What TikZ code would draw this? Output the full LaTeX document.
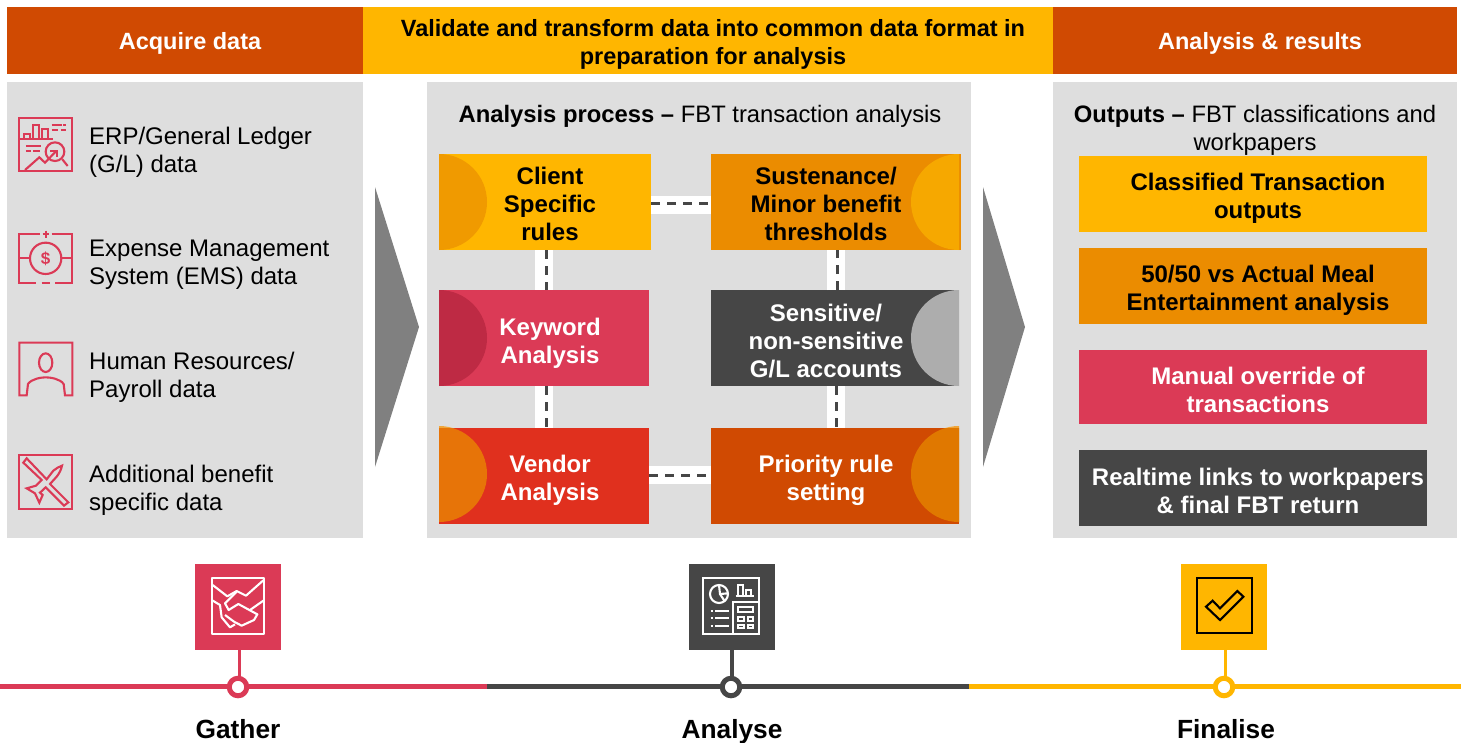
\documentclass[tikz,border=0pt]{standalone}
\usepackage{fontspec}
\setmainfont{Liberation Sans}
\definecolor{cOrange}{HTML}{D04A02}
\definecolor{cYellow}{HTML}{FFB600}
\definecolor{cAmber}{HTML}{EB8C00}
\definecolor{cRose}{HTML}{DB3A56}
\definecolor{cDark}{HTML}{464646}
\definecolor{cRed}{HTML}{E0301E}
\definecolor{cPanel}{HTML}{DEDEDE}
\definecolor{cArrow}{HTML}{808080}
\definecolor{cHalfA}{HTML}{F09A00}
\definecolor{cHalfB}{HTML}{F6A800}
\definecolor{cHalfC}{HTML}{BE2A44}
\definecolor{cHalfD}{HTML}{ADADAD}
\definecolor{cHalfE}{HTML}{E77408}
\definecolor{cHalfF}{HTML}{E07800}
\definecolor{cHalfP}{HTML}{F0A63A}
\tikzset{
  x=1pt,y=-1pt,
  hdr/.style={fill=cOrange,inner sep=0pt,outer sep=0pt,anchor=north west,minimum height=67pt},
  panel/.style={fill=cPanel,inner sep=0pt,outer sep=0pt,anchor=north west},
  cell/.style={inner sep=0pt,outer sep=0pt,anchor=north west},
  htxt/.style={font=\bfseries\fontsize{23.5}{28}\selectfont,align=center,inner sep=0pt},
  btxt/.style={font=\bfseries\fontsize{24}{28}\selectfont,align=center,inner sep=0pt},
  rtxt/.style={font=\fontsize{24}{28}\selectfont,align=left,anchor=west,inner sep=0pt,text=black},
  ttl/.style={font=\fontsize{23.8}{28}\selectfont,align=center,inner sep=0pt,text=black},
  wbar/.style={white,line width=18pt},
  dbar/.style={cDark,line width=3pt,dash pattern=on 9pt off 7pt},
  ico/.style={cRose,line width=2.1pt,line join=miter},
  tile/.style={inner sep=0pt,outer sep=0pt,minimum width=86pt,minimum height=86pt,anchor=north west},
  dot/.style={circle,fill=white,draw=#1,line width=5pt,inner sep=0pt,outer sep=0pt,minimum size=17.5pt},
  stem/.style={#1,line width=3.2pt},
  tline/.style={#1,line width=5pt},
  lab/.style={font=\bfseries\fontsize{26.3}{28}\selectfont,inner sep=0pt,text=black}
}
\begin{document}
\begin{tikzpicture}
\useasboundingbox (0,0) rectangle (1461,742);
% headers
\node[hdr,minimum width=356pt] (h1) at (7,7) {};
\node[hdr,minimum width=690pt,fill=cYellow] (h2) at (363,7) {};
\node[hdr,minimum width=404pt] (h3) at (1053,7) {};
\node[htxt,text=white] (h1t) at (190,43) {Acquire data};
\node[htxt,text=black] (h2t) at (713,44) {Validate and transform data into common data format in\\preparation for analysis};
\node[htxt,text=white] (h3t) at (1260,43) {Analysis \& results};
% panels
\node[panel,minimum width=356pt,minimum height=456pt] (p1) at (7,82) {};
\node[panel,minimum width=544pt,minimum height=456pt] (p2) at (427,82) {};
\node[panel,minimum width=404pt,minimum height=456pt] (p3) at (1053,82) {};
% big arrows
\fill[cArrow] (375,187) -- (419,327) -- (375,467) -- cycle;
\fill[cArrow] (983,187) -- (1025,327) -- (983,467) -- cycle;
% left column text
\node[rtxt] (t1) at (89,152) {ERP/General Ledger\\(G/L) data};
\node[rtxt] (t2) at (89,265) {Expense Management\\System (EMS) data};
\node[rtxt] (t3) at (89,377) {Human Resources/\\Payroll data};
\node[rtxt] (t4) at (89,490) {Additional benefit\\specific data};
% icon ERP
\begin{scope}[shift={(0,80)},scale=1/3]
\draw[ico] (58,115) rectangle (217,273);
\draw[ico] (58,178) -- (158,178);
\draw[ico] (72,178) -- (72,162) -- (90,162) -- (90,178);
\draw[ico] (100,178) -- (100,135) -- (118,135) -- (118,178);
\draw[ico] (125,178) -- (125,148) -- (143,148) -- (143,178);
\draw[ico] (155,135) -- (185,135) (190,135) -- (198,135) (155,150) -- (175,150) (182,150) -- (198,150);
\draw[ico] (78,197) -- (122,197) (78,212) -- (92,212) (100,212) -- (120,212);
\draw[ico] (75,270) -- (118,232) -- (135,248) -- (168,214);
\draw[ico] (150,212) -- (170,212) -- (170,232);
\draw[ico] (165,215) circle[radius=28];
\draw[ico] (187,238) -- (203,258);
\end{scope}
% icon EMS
\begin{scope}[shift={(0,80)},scale=1/3]
\draw[ico] (120,462) -- (58,462) -- (58,608) -- (108,608);
\draw[ico] (155,462) -- (217,462) -- (217,608) -- (165,608);
\draw[ico] (125,608) -- (150,608);
\draw[ico] (128,462) -- (147,462) (137,452) -- (137,473);
\draw[ico] (58,535) -- (90,535) (184,535) -- (217,535);
\draw[ico] (137,535) circle[radius=47];
\node[font=\bfseries\fontsize{17}{17}\selectfont,text=cRose,inner sep=0pt] (dollar) at (137,536) {\$};
\end{scope}
% icon HR
\begin{scope}[shift={(0,320)},scale=1/3]
\draw[ico] (80,226) -- (58,226) -- (58,68) -- (217,68) -- (217,226) -- (195,226) -- (191,192) .. controls (180,176) and (150,172) .. (137,172) .. controls (125,172) and (95,176) .. (84,192) -- cycle;
\draw[ico] (137,128) ellipse[x radius=20,y radius=28];
\end{scope}
% icon plane
\begin{scope}[shift={(0,320)},scale=1/3]
\draw[ico,line width=2.2pt] (58,404) rectangle (217,568);
\draw[ico] (80,415) -- (140,478) -- (160,452) .. controls (168,445) and (178,440) .. (186,437) .. controls (184,448) and (178,460) .. (170,470) -- (150,492) -- (205,547) -- (192,557) -- (137,502) -- (120,518) -- (128,525) -- (118,548) -- (105,520) -- (80,505) -- (108,497) -- (125,480) -- (70,428) -- cycle;
\end{scope}
% middle title
\node[ttl] (mt) at (700,116) {\textbf{Analysis process –} FBT transaction analysis};
% middle boxes
\node[cell,fill=cYellow,minimum width=212pt,minimum height=96pt] (client) at (439,154) {};
\node[cell,fill=cAmber,minimum width=250pt,minimum height=96pt] (sust) at (711,154) {};
\node[cell,fill=cRose,minimum width=210pt,minimum height=96pt] (key) at (439,290) {};
\node[cell,fill=cDark,minimum width=248pt,minimum height=96pt] (sens) at (711,290) {};
\fill[cHalfP] (439,426) arc[start angle=90,end angle=-90,radius=48pt] -- cycle;
\fill[cHalfP] (959,426) arc[start angle=90,end angle=270,radius=48pt] -- cycle;
\node[cell,fill=cRed,minimum width=210pt,minimum height=96pt] (vend) at (439,428) {};
\node[cell,fill=cOrange,minimum width=248pt,minimum height=96pt] (prio) at (711,428) {};
% half circles
\fill[cHalfA] (439,154) arc[start angle=90,end angle=-90,radius=48pt] -- cycle;
\fill[cHalfB] (959,154) arc[start angle=90,end angle=270,radius=48pt] -- cycle;
\fill[cHalfC] (439,290) arc[start angle=90,end angle=-90,radius=48pt] -- cycle;
\fill[cHalfD] (959,290) arc[start angle=90,end angle=270,radius=48pt] -- cycle;
\begin{scope}
\clip (vend.north west) rectangle (vend.south east);
\fill[cHalfE] (439,426) arc[start angle=90,end angle=-90,radius=48pt] -- cycle;
\end{scope}
\begin{scope}
\clip (prio.north west) rectangle (prio.south east);
\fill[cHalfF] (959,426) arc[start angle=90,end angle=270,radius=48pt] -- cycle;
\end{scope}
% connectors
\draw[wbar] ([yshift=-3pt]client.east) -- ([yshift=-3pt]client.east -| sust.west);
\draw[dbar] ([yshift=-1pt]client.east) -- ([yshift=-1pt]client.east -| sust.west);
\draw[wbar] ([xshift=-1pt]client.south) -- ([xshift=-1pt]client.south |- key.north);
\draw[dbar] ([xshift=1.5pt]client.south) -- ([xshift=1.5pt]client.south |- key.north);
\draw[wbar] ([xshift=0pt]key.south) -- ([xshift=0pt]vend.north);
\draw[dbar] ([xshift=2pt]key.south) -- ([xshift=2pt]vend.north);
\draw[wbar] ([xshift=1pt]sens.north) -- ([xshift=1pt]sust.south -| sens.north);
\draw[dbar] ([xshift=2.5pt]sens.north) -- ([xshift=2.5pt]sust.south -| sens.north);
\draw[wbar] ([xshift=1pt]sens.south) -- ([xshift=1pt]prio.north);
\draw[dbar] ([xshift=1pt]sens.south) -- ([xshift=1pt]prio.north);
\draw[wbar] ([yshift=1pt]vend.east) -- ([yshift=1pt]prio.west);
\draw[dbar] ([yshift=1pt]vend.east) -- ([yshift=1pt]prio.west);
% middle text
\node[btxt,text=black] (clientt) at (550,204) {Client\\Specific\\rules};
\node[btxt,text=black] (sustt) at (826,204) {Sustenance/\\Minor benefit\\thresholds};
\node[btxt,text=white] (keyt) at (550,343) {Keyword\\Analysis};
\node[btxt,text=white] (senst) at (826,341) {Sensitive/\\non-sensitive\\G/L accounts};
\node[btxt,text=white] (vendt) at (550,480) {Vendor\\Analysis};
\node[btxt,text=white] (priot) at (826,480) {Priority rule\\setting};
% right column
\node[ttl] (rt) at (1255,130) {\textbf{Outputs –} FBT classifications and\\workpapers};
\node[cell,fill=cYellow,minimum width=348pt,minimum height=76pt] (o1) at (1079,156) {};
\node[cell,fill=cAmber,minimum width=348pt,minimum height=76pt] (o2) at (1079,248) {};
\node[cell,fill=cRose,minimum width=348pt,minimum height=74pt] (o3) at (1079,350) {};
\node[cell,fill=cDark,minimum width=348pt,minimum height=76pt] (o4) at (1079,450) {};
\node[btxt,text=black] (o1t) at (1258,198) {Classified Transaction\\outputs};
\node[btxt,text=black] (o2t) at (1258,290) {50/50 vs Actual Meal\\Entertainment analysis};
\node[btxt,text=white] (o3t) at (1258,390) {Manual override of\\transactions};
\node[btxt,text=white] (o4t) at (1258,491) {Realtime links to workpapers\\\& final FBT return};
% timeline
\coordinate (l0) at (0,686);
\coordinate (l1) at (487,686);
\coordinate (l2) at (969,686);
\coordinate (l3) at (1461,686);
\draw[tline=cRose] (l0) -- (l1);
\draw[tline=cDark] (l1) -- (l2);
\draw[tline=cYellow] (l2) -- (l3);
\node[tile,fill=cRose] (s1) at (195,564) {};
\node[tile,fill=cDark] (s2) at (689,564) {};
\node[tile,fill=cYellow] (s3) at (1181,564) {};
\node[dot=cRose] (c1) at (238,687) {};
\node[dot=cDark] (c2) at (731,687) {};
\node[dot=cYellow] (c3) at (1224,687) {};
\draw[stem=cRose] ([xshift=1.5pt]s1.south) -- ([xshift=1.5pt]s1.south |- c1.north);
\draw[stem=cDark] (s2.south) -- (s2.south |- c2.north);
\draw[stem=cYellow] ([xshift=1.7pt]s3.south) -- ([xshift=1.7pt]s3.south |- c3.north);
\node[lab] (g) at (238,729) {Gather};
\node[lab] (a) at (732,732) {Analyse};
\node[lab] (f) at (1226,729) {Finalise};
% handshake icon
\begin{scope}[shift={(170,555)},scale=1/3,white,line width=2.1pt,line join=round]
\draw (125,70) rectangle (283,236);
\draw (128,90) -- (172,124) -- (200,108) -- (228,122) -- (280,76);
\draw (200,110) -- (165,145) -- (176,165) -- (205,147) -- (262,178) -- (252,195) -- (215,212) -- (192,200) -- (165,180);
\draw (240,165) -- (283,135);
\draw (125,135) -- (150,150) -- (155,187) -- (180,217) -- (195,208);
\end{scope}
% analysis icon
\begin{scope}[shift={(670,555)},scale=1/3,white,line width=2.1pt]
\draw (100,70) rectangle (268,236);
\draw (147,117) circle[radius=27];
\draw (147,90) -- (150,117) -- (165,140) (150,117) -- (174,115);
\draw (122,168) -- (129,168) (122,190) -- (129,190) (122,213) -- (129,213);
\draw (136,168) -- (178,168) (136,190) -- (178,190) (136,213) -- (178,213);
\draw (197,123) -- (253,123);
\draw (205,123) -- (205,90) -- (220,90) -- (220,123) (228,123) -- (228,105) -- (243,105) -- (243,123);
\draw (188,236) -- (188,142) -- (268,142);
\draw (205,155) rectangle (250,170);
\draw (205,185) rectangle (222,198) (233,185) rectangle (250,198);
\draw (205,210) rectangle (222,220) (233,210) rectangle (250,220);
\end{scope}
% check icon
\begin{scope}[shift={(1160,555)},scale=1/3,black,line width=2.1pt]
\draw (112,70) rectangle (277,235);
\draw (138,155) -- (180,195) -- (250,125) -- (232,108) -- (180,160) -- (158,137) -- cycle;
\end{scope}
\end{tikzpicture}
\end{document}
